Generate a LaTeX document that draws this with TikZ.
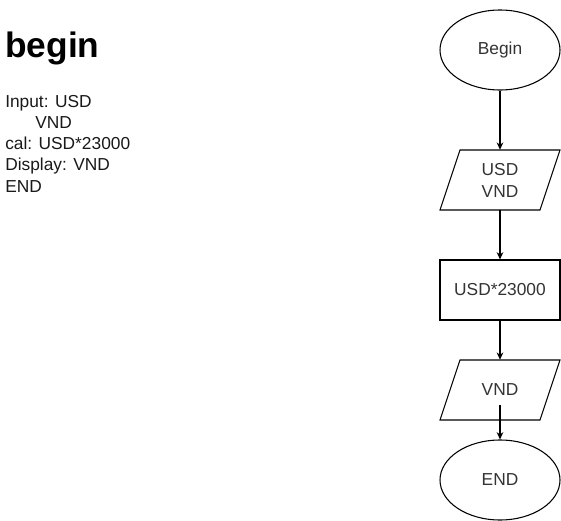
\documentclass[tikz,border=0pt]{standalone}
\usepackage{fontspec}
\setmainfont{Liberation Sans}
\usetikzlibrary{shapes.geometric,arrows.meta}
\begin{document}
\begin{tikzpicture}[x=0.75pt,y=-0.75pt,
  flow/.style={draw=black,line width=0.8pt},
  lbl/.style={text=black!80,font=\fontsize{13}{16.5}\selectfont,align=center,inner sep=0pt},
  oval/.style={flow,ellipse,minimum width=90pt,minimum height=60pt,inner sep=0pt,lbl},
  boxnode/.style={flow,rectangle,minimum width=90pt,minimum height=45pt,inner sep=0pt,lbl},
  plain/.style={minimum width=90pt,minimum height=45pt,inner sep=0pt,lbl},
  arr/.style={line width=0.8pt,-{Stealth[length=5.5pt,width=5pt]}},
  txt/.style={anchor=base west,inner sep=0pt,font=\fontsize{13}{16}\selectfont,text=black!90},
]
\useasboundingbox (0,0) rectangle (561,521);
% left text
\node[txt,font=\fontsize{26.5}{30}\selectfont\bfseries,text=black] (head) at (5,57) {begin};
\node[txt] (l1) at (5,107) {Input: USD};
\node[txt] (l2) at (35,128) {VND};
\node[txt] (l3) at (5,149) {cal: USD*23000};
\node[txt] (l4) at (5,170) {Display: VND};
\node[txt] (l5) at (5,192) {END};
% flowchart
\node[oval] (begin) at (500,50) {Begin};
\node[plain] (usd) at (500,180) {USD\\VND};
\draw[flow] (460,150) -- (560,150) -- (540,210) -- (440,210) -- cycle;
\node[boxnode] (cal) at (500,290) {USD*23000};
\node[plain] (vnd) at (500,390) {VND};
\draw[flow] (460,360) -- (560,360) -- (540,420) -- (440,420) -- cycle;
\node[oval] (end) at (500,480) {END};
\coordinate (vndtail) at (500,405);
\draw[arr] (begin) -- (usd);
\draw[arr] (usd) -- (cal);
\draw[arr] (cal) -- (vnd);
\draw[arr] (vndtail) -- (end);
\end{tikzpicture}
\end{document}
